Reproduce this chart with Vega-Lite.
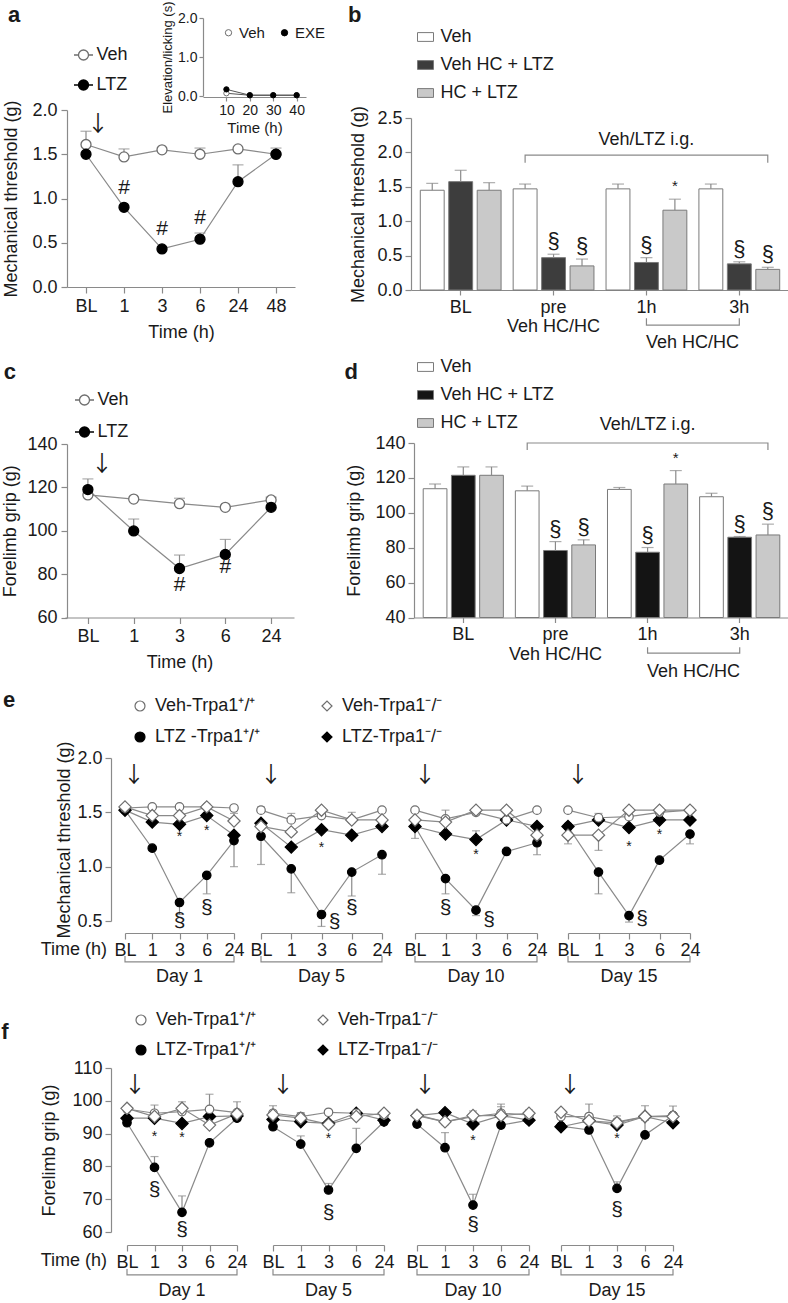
{
"$schema":"https://vega.github.io/schema/vega-lite/v6.json",
"width":788,"height":1303,"autosize":{"type":"none"},"padding":0,"background":"white",
"config":{
 "view":{"stroke":null},
 "font":"Liberation Sans",
 "axis":{"grid":false,"domainColor":"#8a8a8a","tickColor":"#8a8a8a","domainWidth":1.2,"tickWidth":1.2,"tickSize":6,"labelFont":"Liberation Sans","labelFontSize":18,"labelColor":"#1a1a1a","titleFont":"Liberation Sans","titleFontSize":18,"titleFontWeight":"normal","titleColor":"#1a1a1a","labelPadding":3,"labelOverlap":false,"labelFlush":false,"labelBound":false},
 "legend":{"labelFont":"Liberation Sans","labelFontSize":18,"labelColor":"#1a1a1a","padding":0,"labelLimit":300},
 "text":{"font":"Liberation Sans","fontSize":18,"color":"#1a1a1a"},
 "line":{"color":"#8a8a8a","strokeWidth":1.2},
 "rule":{"color":"#8a8a8a","strokeWidth":1.2},
 "tick":{"color":"#8a8a8a","thickness":1.2}
},
"datasets":{
 "a":[
  {"group":"Veh","time":"BL","v":1.61,"err":1.76},{"group":"Veh","time":"1","v":1.47,"err":1.56},{"group":"Veh","time":"3","v":1.55},{"group":"Veh","time":"6","v":1.5,"err":1.57},{"group":"Veh","time":"24","v":1.56},{"group":"Veh","time":"48","v":1.5},
  {"group":"LTZ","time":"BL","v":1.5},{"group":"LTZ","time":"1","v":0.9},{"group":"LTZ","time":"3","v":0.43},{"group":"LTZ","time":"6","v":0.54,"err":0.61},{"group":"LTZ","time":"24","v":1.19,"err":1.38},{"group":"LTZ","time":"48","v":1.5,"err":1.57}],
 "aNote":[{"time":"1","label":"#","v":1.12},{"time":"3","label":"#","v":0.66},{"time":"6","label":"#","v":0.78}],
 "ins":[
  {"group":"Veh","t":10,"v":0.07},{"group":"Veh","t":20,"v":0.02},{"group":"Veh","t":30,"v":0.02},{"group":"Veh","t":40,"v":0.02},
  {"group":"EXE","t":10,"v":0.17},{"group":"EXE","t":20,"v":0.02},{"group":"EXE","t":30,"v":0.02},{"group":"EXE","t":40,"v":0.02}],
 "b":[
  {"g":"BL","s":"Veh","v":1.45,"err":1.55},{"g":"BL","s":"Veh HC + LTZ","v":1.575,"err":1.74},{"g":"BL","s":"HC + LTZ","v":1.45,"err":1.56},
  {"g":"pre","s":"Veh","v":1.47,"err":1.54},{"g":"pre","s":"Veh HC + LTZ","v":0.47,"err":0.52,"sig":"§"},{"g":"pre","s":"HC + LTZ","v":0.35,"err":0.45,"sig":"§"},
  {"g":"1h","s":"Veh","v":1.47,"err":1.54},{"g":"1h","s":"Veh HC + LTZ","v":0.4,"err":0.47,"sig":"§"},{"g":"1h","s":"HC + LTZ","v":1.16,"err":1.32,"sig":"*"},
  {"g":"3h","s":"Veh","v":1.47,"err":1.54},{"g":"3h","s":"Veh HC + LTZ","v":0.38,"err":0.41,"sig":"§"},{"g":"3h","s":"HC + LTZ","v":0.3,"err":0.33,"sig":"§"}],
 "c":[
  {"group":"Veh","time":"BL","v":116.5},{"group":"Veh","time":"1","v":114.6},{"group":"Veh","time":"3","v":112.5,"err":115.0},{"group":"Veh","time":"6","v":110.8},{"group":"Veh","time":"24","v":114.2,"err":115.5},
  {"group":"LTZ","time":"BL","v":119.0,"err":123.9},{"group":"LTZ","time":"1","v":99.9,"err":105.4},{"group":"LTZ","time":"3","v":82.6,"err":88.8},{"group":"LTZ","time":"6","v":89.1,"err":96.0},{"group":"LTZ","time":"24","v":110.8}],
 "cNote":[{"time":"3","label":"#","v":75.0},{"time":"6","label":"#","v":83.1}],
 "d":[
  {"g":"BL","s":"Veh","v":113.8,"err":116.5},{"g":"BL","s":"Veh HC + LTZ","v":121.5,"err":126.3},{"g":"BL","s":"HC + LTZ","v":121.5,"err":126.3},
  {"g":"pre","s":"Veh","v":112.6,"err":115.3},{"g":"pre","s":"Veh HC + LTZ","v":78.4,"err":83.5,"sig":"§"},{"g":"pre","s":"HC + LTZ","v":81.6,"err":84.5,"sig":"§"},
  {"g":"1h","s":"Veh","v":113.4,"err":114.5},{"g":"1h","s":"Veh HC + LTZ","v":77.4,"err":80.1,"sig":"§"},{"g":"1h","s":"HC + LTZ","v":116.5,"err":124.2,"sig":"*"},
  {"g":"3h","s":"Veh","v":109.2,"err":111.2},{"g":"3h","s":"Veh HC + LTZ","v":86.0,"err":86.4,"sig":"§"},{"g":"3h","s":"HC + LTZ","v":87.3,"err":93.5,"sig":"§"}],
 "e":[
  {"day":"Day 1","time":"BL","group":"LW","v":1.52},{"day":"Day 1","time":"1","group":"LW","v":1.17},{"day":"Day 1","time":"3","group":"LW","v":0.67,"err":0.56},{"day":"Day 1","time":"6","group":"LW","v":0.92,"err":0.75},{"day":"Day 1","time":"24","group":"LW","v":1.24,"err":1.0},
  {"day":"Day 1","time":"BL","group":"LK","v":1.52},{"day":"Day 1","time":"1","group":"LK","v":1.41},{"day":"Day 1","time":"3","group":"LK","v":1.39},{"day":"Day 1","time":"6","group":"LK","v":1.47},{"day":"Day 1","time":"24","group":"LK","v":1.29},
  {"day":"Day 1","time":"BL","group":"VW","v":1.54},{"day":"Day 1","time":"1","group":"VW","v":1.55},{"day":"Day 1","time":"3","group":"VW","v":1.55},{"day":"Day 1","time":"6","group":"VW","v":1.55},{"day":"Day 1","time":"24","group":"VW","v":1.54},
  {"day":"Day 1","time":"BL","group":"VK","v":1.55},{"day":"Day 1","time":"1","group":"VK","v":1.47},{"day":"Day 1","time":"3","group":"VK","v":1.47},{"day":"Day 1","time":"6","group":"VK","v":1.55},{"day":"Day 1","time":"24","group":"VK","v":1.42,"err":1.49},
  {"day":"Day 5","time":"BL","group":"LW","v":1.28,"err":1.02},{"day":"Day 5","time":"1","group":"LW","v":0.98,"err":0.76},{"day":"Day 5","time":"3","group":"LW","v":0.56,"err":0.45},{"day":"Day 5","time":"6","group":"LW","v":0.95,"err":0.73},{"day":"Day 5","time":"24","group":"LW","v":1.11,"err":0.93},
  {"day":"Day 5","time":"BL","group":"LK","v":1.4},{"day":"Day 5","time":"1","group":"LK","v":1.18},{"day":"Day 5","time":"3","group":"LK","v":1.34},{"day":"Day 5","time":"6","group":"LK","v":1.29},{"day":"Day 5","time":"24","group":"LK","v":1.37},
  {"day":"Day 5","time":"BL","group":"VW","v":1.52,"err":1.55},{"day":"Day 5","time":"1","group":"VW","v":1.43,"err":1.49},{"day":"Day 5","time":"3","group":"VW","v":1.47},{"day":"Day 5","time":"6","group":"VW","v":1.43,"err":1.5},{"day":"Day 5","time":"24","group":"VW","v":1.52},
  {"day":"Day 5","time":"BL","group":"VK","v":1.37},{"day":"Day 5","time":"1","group":"VK","v":1.32},{"day":"Day 5","time":"3","group":"VK","v":1.52},{"day":"Day 5","time":"6","group":"VK","v":1.43},{"day":"Day 5","time":"24","group":"VK","v":1.43},
  {"day":"Day 10","time":"BL","group":"LW","v":1.37},{"day":"Day 10","time":"1","group":"LW","v":0.89,"err":0.75},{"day":"Day 10","time":"3","group":"LW","v":0.6,"err":0.55},{"day":"Day 10","time":"6","group":"LW","v":1.14},{"day":"Day 10","time":"24","group":"LW","v":1.22},
  {"day":"Day 10","time":"BL","group":"LK","v":1.37,"err":1.26},{"day":"Day 10","time":"1","group":"LK","v":1.3},{"day":"Day 10","time":"3","group":"LK","v":1.25,"err":1.33},{"day":"Day 10","time":"6","group":"LK","v":1.43},{"day":"Day 10","time":"24","group":"LK","v":1.37},
  {"day":"Day 10","time":"BL","group":"VW","v":1.52},{"day":"Day 10","time":"1","group":"VW","v":1.44,"err":1.52},{"day":"Day 10","time":"3","group":"VW","v":1.5},{"day":"Day 10","time":"6","group":"VW","v":1.43},{"day":"Day 10","time":"24","group":"VW","v":1.52},
  {"day":"Day 10","time":"BL","group":"VK","v":1.43},{"day":"Day 10","time":"1","group":"VK","v":1.41},{"day":"Day 10","time":"3","group":"VK","v":1.52},{"day":"Day 10","time":"6","group":"VK","v":1.52},{"day":"Day 10","time":"24","group":"VK","v":1.29,"err":1.11},
  {"day":"Day 15","time":"BL","group":"LW","v":1.37},{"day":"Day 15","time":"1","group":"LW","v":0.95,"err":0.75},{"day":"Day 15","time":"3","group":"LW","v":0.55,"err":0.49},{"day":"Day 15","time":"6","group":"LW","v":1.06},{"day":"Day 15","time":"24","group":"LW","v":1.3,"err":1.21},
  {"day":"Day 15","time":"BL","group":"LK","v":1.37},{"day":"Day 15","time":"1","group":"LK","v":1.43,"err":1.49},{"day":"Day 15","time":"3","group":"LK","v":1.36},{"day":"Day 15","time":"6","group":"LK","v":1.43},{"day":"Day 15","time":"24","group":"LK","v":1.43},
  {"day":"Day 15","time":"BL","group":"VW","v":1.52},{"day":"Day 15","time":"1","group":"VW","v":1.45},{"day":"Day 15","time":"3","group":"VW","v":1.46},{"day":"Day 15","time":"6","group":"VW","v":1.5},{"day":"Day 15","time":"24","group":"VW","v":1.52},
  {"day":"Day 15","time":"BL","group":"VK","v":1.29,"err":1.21},{"day":"Day 15","time":"1","group":"VK","v":1.29,"err":1.15},{"day":"Day 15","time":"3","group":"VK","v":1.52},{"day":"Day 15","time":"6","group":"VK","v":1.52},{"day":"Day 15","time":"24","group":"VK","v":1.52}],
 "eNote":[
  {"day":"Day 1","time":"3","label":"*","v":1.27,"pos":"c"},{"day":"Day 1","time":"6","label":"*","v":1.33,"pos":"c"},{"day":"Day 1","time":"3","label":"§","v":0.5,"pos":"c"},{"day":"Day 1","time":"6","label":"§","v":0.62,"pos":"c"},
  {"day":"Day 5","time":"3","label":"*","v":1.17,"pos":"c"},{"day":"Day 5","time":"3","label":"§","v":0.49,"pos":"r"},{"day":"Day 5","time":"6","label":"§","v":0.62,"pos":"c"},
  {"day":"Day 10","time":"3","label":"*","v":1.11,"pos":"c"},{"day":"Day 10","time":"1","label":"§","v":0.62,"pos":"c"},{"day":"Day 10","time":"3","label":"§","v":0.51,"pos":"r"},
  {"day":"Day 15","time":"3","label":"*","v":1.18,"pos":"c"},{"day":"Day 15","time":"6","label":"*","v":1.29,"pos":"c"},{"day":"Day 15","time":"3","label":"§","v":0.52,"pos":"r"}],
 "f":[
  {"day":"Day 1","time":"BL","group":"LW","v":93.3},{"day":"Day 1","time":"1","group":"LW","v":79.7,"err":83.0},{"day":"Day 1","time":"3","group":"LW","v":66.0,"err":71.0},{"day":"Day 1","time":"6","group":"LW","v":87.2},{"day":"Day 1","time":"24","group":"LW","v":94.7},
  {"day":"Day 1","time":"BL","group":"LK","v":94.7},{"day":"Day 1","time":"1","group":"LK","v":94.7},{"day":"Day 1","time":"3","group":"LK","v":93.1},{"day":"Day 1","time":"6","group":"LK","v":95.2},{"day":"Day 1","time":"24","group":"LK","v":95.4},
  {"day":"Day 1","time":"BL","group":"VW","v":97.5,"err":98.5},{"day":"Day 1","time":"1","group":"VW","v":96.2,"err":98.7},{"day":"Day 1","time":"3","group":"VW","v":96.7},{"day":"Day 1","time":"6","group":"VW","v":97.4,"err":102.0},{"day":"Day 1","time":"24","group":"VW","v":96.4,"err":99.7},
  {"day":"Day 1","time":"BL","group":"VK","v":97.7},{"day":"Day 1","time":"1","group":"VK","v":95.2},{"day":"Day 1","time":"3","group":"VK","v":97.7,"err":99.7},{"day":"Day 1","time":"6","group":"VK","v":92.6},{"day":"Day 1","time":"24","group":"VK","v":96.0},
  {"day":"Day 5","time":"BL","group":"LW","v":92.1},{"day":"Day 5","time":"1","group":"LW","v":86.8,"err":89.3},{"day":"Day 5","time":"3","group":"LW","v":72.8,"err":74.8},{"day":"Day 5","time":"6","group":"LW","v":85.5,"err":91.6},{"day":"Day 5","time":"24","group":"LW","v":93.6},
  {"day":"Day 5","time":"BL","group":"LK","v":94.3},{"day":"Day 5","time":"1","group":"LK","v":93.6,"err":96.4},{"day":"Day 5","time":"3","group":"LK","v":93.1},{"day":"Day 5","time":"6","group":"LK","v":96.2},{"day":"Day 5","time":"24","group":"LK","v":94.1},
  {"day":"Day 5","time":"BL","group":"VW","v":96.2,"err":98.5},{"day":"Day 5","time":"1","group":"VW","v":95.2},{"day":"Day 5","time":"3","group":"VW","v":96.5},{"day":"Day 5","time":"6","group":"VW","v":96.2},{"day":"Day 5","time":"24","group":"VW","v":95.7},
  {"day":"Day 5","time":"BL","group":"VK","v":95.7},{"day":"Day 5","time":"1","group":"VK","v":94.7},{"day":"Day 5","time":"3","group":"VK","v":92.8},{"day":"Day 5","time":"6","group":"VK","v":95.2},{"day":"Day 5","time":"24","group":"VK","v":96.2},
  {"day":"Day 10","time":"BL","group":"LW","v":92.9},{"day":"Day 10","time":"1","group":"LW","v":85.7,"err":90.3},{"day":"Day 10","time":"3","group":"LW","v":68.2,"err":71.5},{"day":"Day 10","time":"6","group":"LW","v":92.6,"err":98.2},{"day":"Day 10","time":"24","group":"LW","v":94.1},
  {"day":"Day 10","time":"BL","group":"LK","v":95.5},{"day":"Day 10","time":"1","group":"LK","v":96.4},{"day":"Day 10","time":"3","group":"LK","v":92.9},{"day":"Day 10","time":"6","group":"LK","v":95.5},{"day":"Day 10","time":"24","group":"LK","v":94.1},
  {"day":"Day 10","time":"BL","group":"VW","v":95.7},{"day":"Day 10","time":"1","group":"VW","v":93.6},{"day":"Day 10","time":"3","group":"VW","v":95.2,"err":96.9},{"day":"Day 10","time":"6","group":"VW","v":96.2,"err":99.0},{"day":"Day 10","time":"24","group":"VW","v":95.7},
  {"day":"Day 10","time":"BL","group":"VK","v":95.5},{"day":"Day 10","time":"1","group":"VK","v":93.6},{"day":"Day 10","time":"3","group":"VK","v":95.5},{"day":"Day 10","time":"6","group":"VK","v":95.5},{"day":"Day 10","time":"24","group":"VK","v":96.2,"err":97.2},
  {"day":"Day 15","time":"BL","group":"LW","v":92.3},{"day":"Day 15","time":"1","group":"LW","v":91.1},{"day":"Day 15","time":"3","group":"LW","v":73.3,"err":75.3},{"day":"Day 15","time":"6","group":"LW","v":89.6,"err":94.1},{"day":"Day 15","time":"24","group":"LW","v":95.5},
  {"day":"Day 15","time":"BL","group":"LK","v":92.1},{"day":"Day 15","time":"1","group":"LK","v":93.9},{"day":"Day 15","time":"3","group":"LK","v":92.6},{"day":"Day 15","time":"6","group":"LK","v":95.2},{"day":"Day 15","time":"24","group":"LK","v":93.3},
  {"day":"Day 15","time":"BL","group":"VW","v":95.2},{"day":"Day 15","time":"1","group":"VW","v":95.2,"err":99.0},{"day":"Day 15","time":"3","group":"VW","v":93.6,"err":95.4},{"day":"Day 15","time":"6","group":"VW","v":95.2,"err":98.5},{"day":"Day 15","time":"24","group":"VW","v":95.5,"err":98.4},
  {"day":"Day 15","time":"BL","group":"VK","v":96.5},{"day":"Day 15","time":"1","group":"VK","v":93.9},{"day":"Day 15","time":"3","group":"VK","v":93.3},{"day":"Day 15","time":"6","group":"VK","v":95.2},{"day":"Day 15","time":"24","group":"VK","v":95.2}],
 "fNote":[
  {"day":"Day 1","time":"1","label":"*","v":89.1,"pos":"c"},{"day":"Day 1","time":"3","label":"*","v":88.6,"pos":"c"},{"day":"Day 1","time":"1","label":"§","v":72.8,"pos":"c"},{"day":"Day 1","time":"3","label":"§","v":60.6,"pos":"c"},
  {"day":"Day 5","time":"3","label":"*","v":88.3,"pos":"c"},{"day":"Day 5","time":"3","label":"§","v":65.7,"pos":"c"},
  {"day":"Day 10","time":"3","label":"*","v":87.7,"pos":"c"},{"day":"Day 10","time":"3","label":"§","v":62.1,"pos":"c"},
  {"day":"Day 15","time":"3","label":"*","v":88.3,"pos":"c"},{"day":"Day 15","time":"3","label":"§","v":66.7,"pos":"c"}]
},
"layer":[
 {"data":{"name":"a"},
  "encoding":{
   "x":{"field":"time","type":"ordinal","scale":{"type":"point","domain":["BL","1","3","6","24","48"],"range":[67,295],"padding":0.5},"axis":{"orient":"bottom","offset":-1016,"title":"Time (h)","labelAngle":0,"labelPadding":4,"titlePadding":8}},
   "y":{"field":"v","type":"quantitative","scale":{"domain":[0,2],"range":[287,110],"nice":false,"zero":false},"axis":{"orient":"left","offset":-67,"values":[0,0.5,1,1.5,2],"format":".1f","title":"Mechanical threshold (g)","titlePadding":11,"labelPadding":4}}},
  "layer":[
   {"mark":{"type":"line"},"encoding":{"detail":{"field":"group"},"order":{"value":null}}},
   {"transform":[{"filter":"isValid(datum.err)"}],"mark":{"type":"rule"},"encoding":{"y2":{"field":"err"}}},
   {"transform":[{"filter":"isValid(datum.err)"}],"mark":{"type":"tick","size":11},"encoding":{"y":{"field":"err","type":"quantitative"}}},
   {"mark":{"type":"point","filled":true,"size":100,"strokeWidth":1.3,"opacity":1},
    "encoding":{
     "fill":{"field":"group","type":"nominal","scale":{"domain":["Veh","LTZ"],"range":["white","black"]},"legend":{"title":null,"orient":"none","legendX":74.5,"legendY":46,"symbolType":"M-1.9,0L-1,0M1,0L1.9,0M1,0A1,1,0,1,1,-1,0A1,1,0,1,1,1,0Z","symbolSize":100,"symbolStrokeWidth":1.3,"labelOffset":4,"rowPadding":12}},
     "stroke":{"field":"group","type":"nominal","scale":{"domain":["Veh","LTZ"],"range":["#6e6e6e","black"]},"legend":{"title":null,"orient":"none","legendX":74.5,"legendY":46,"symbolType":"M-1.9,0L-1,0M1,0L1.9,0M1,0A1,1,0,1,1,-1,0A1,1,0,1,1,1,0Z","symbolSize":100,"symbolStrokeWidth":1.3,"labelOffset":4,"rowPadding":12}}}},
   {"data":{"name":"aNote"},"mark":{"type":"text","fontSize":21,"baseline":"middle"},"encoding":{"text":{"field":"label"}}},
   {"data":{"values":[{"time":"BL","v":1.84}]},"mark":{"type":"text","text":"↓","font":"Noto Sans CJK JP","fontSize":22,"dx":12,"baseline":"middle","color":"#1a1a1a"},"encoding":{}},
   {"data":{"values":[{"time":"BL","v":3.07}]},"mark":{"type":"text","text":"a","fontSize":22,"fontWeight":"bold","dx":-72,"baseline":"middle"},"encoding":{}}
  ]},
 {"data":{"name":"ins"},
  "encoding":{
   "x":{"field":"t","type":"quantitative","scale":{"domain":[0,44],"range":[203,306],"nice":false,"zero":false},"axis":{"orient":"bottom","offset":-1206,"values":[10,20,30,40],"title":"Time (h)","labelFontSize":14,"titleFontSize":15,"tickSize":4,"labelPadding":2,"titlePadding":3}},
   "y":{"field":"v","type":"quantitative","scale":{"domain":[0,2],"range":[96,18],"nice":false,"zero":false},"axis":{"orient":"left","offset":-203,"values":[0,1,2],"title":"Elevation/licking (s)","labelFontSize":14,"titleFontSize":13,"tickSize":4,"labelPadding":2,"titlePadding":3}}},
  "layer":[
   {"mark":{"type":"line","color":"#555555","strokeWidth":1},"encoding":{"detail":{"field":"group"},"order":{"value":null}}},
   {"mark":{"type":"point","filled":true,"size":28,"strokeWidth":1,"opacity":1},
    "encoding":{
     "fill":{"field":"group","type":"nominal","scale":{"domain":["Veh","EXE"],"range":["white","black"]},"legend":{"title":null,"orient":"none","legendX":221,"legendY":25,"direction":"horizontal","symbolSize":40,"symbolStrokeWidth":1,"labelOffset":3,"columnPadding":12,"labelFontSize":15}},
     "stroke":{"field":"group","type":"nominal","scale":{"domain":["Veh","EXE"],"range":["#6e6e6e","black"]},"legend":{"title":null,"orient":"none","legendX":221,"legendY":25,"direction":"horizontal","symbolSize":40,"symbolStrokeWidth":1,"labelOffset":3,"columnPadding":12,"labelFontSize":15}}}}
  ]},
 {"data":{"name":"b"},
  "encoding":{
   "x":{"field":"g","type":"nominal","scale":{"type":"band","domain":["BL","pre","1h","3h"],"range":[411,789],"paddingInner":0.13,"paddingOuter":0.1},"axis":{"orient":"bottom","offset":-1013,"title":null,"labelAngle":0,"tickSize":5,"labelPadding":3,"labelLineHeight":19,"labelExpr":"datum.label == 'pre' ? ['pre', 'Veh HC/HC'] : datum.label"}},
   "y":{"field":"v","type":"quantitative","scale":{"domain":[0,2.5],"range":[290,118],"nice":false,"zero":false},"axis":{"orient":"left","offset":-411,"values":[0,0.5,1,1.5,2,2.5],"format":".1f","title":"Mechanical threshold (g)","titlePadding":9}}},
  "layer":[
   {"mark":{"type":"bar","stroke":"#7a7a7a","strokeWidth":1},
    "encoding":{"xOffset":{"field":"s","type":"nominal","scale":{"domain":["Veh","Veh HC + LTZ","HC + LTZ"],"paddingInner":0.16,"paddingOuter":0}},"y2":{"datum":0},
     "fill":{"field":"s","type":"nominal","scale":{"domain":["Veh","Veh HC + LTZ","HC + LTZ"],"range":["white","#3d3d3d","#c9c9c9"]},"legend":{"title":null,"orient":"none","legendX":416.5,"legendY":28,"symbolType":"M-1,-0.55L1,-0.55L1,0.55L-1,0.55Z","symbolSize":256,"symbolStrokeColor":"#7a7a7a","symbolStrokeWidth":1,"labelOffset":6,"rowPadding":10}}}},
   {"transform":[{"filter":"isValid(datum.err)"}],"mark":{"type":"rule"},"encoding":{"xOffset":{"field":"s","type":"nominal"},"y2":{"field":"err"}}},
   {"transform":[{"filter":"isValid(datum.err)"}],"mark":{"type":"tick","size":12},"encoding":{"xOffset":{"field":"s","type":"nominal"},"y":{"field":"err","type":"quantitative"}}},
   {"transform":[{"filter":"isValid(datum.sig)"}],"mark":{"type":"text","dy":-13,"baseline":"middle","color":"#1a1a1a","fontSize":{"expr":"datum.sig == '*' ? 15 : 22"}},"encoding":{"xOffset":{"field":"s","type":"nominal"},"y":{"field":"err","type":"quantitative"},"text":{"field":"sig"}}},
   {"data":{"values":[{"g":"pre","s":"Veh","v":1.85},{"g":"pre","s":"Veh","v":1.96},{"g":"3h","s":"HC + LTZ","v":1.96},{"g":"3h","s":"HC + LTZ","v":1.85}]},"mark":{"type":"line"},"encoding":{"xOffset":{"field":"s","type":"nominal"},"order":{"value":null}}},
   {"data":{"values":[{"g":"1h","v":2.18}]},"mark":{"type":"text","text":"Veh/LTZ i.g.","baseline":"middle"},"encoding":{}},
   {"data":{"values":[{"g":"1h","v":-0.41},{"g":"1h","v":-0.51},{"g":"3h","v":-0.51},{"g":"3h","v":-0.41}]},"mark":{"type":"line"},"encoding":{"order":{"value":null}}},
   {"data":{"values":[{"g":"1h","v":-0.77}]},"mark":{"type":"text","text":"Veh HC/HC","dx":46,"baseline":"middle"},"encoding":{}},
   {"data":{"values":[{"g":"BL","v":4.0}]},"mark":{"type":"text","text":"b","fontSize":22,"fontWeight":"bold","dx":-106,"baseline":"middle"},"encoding":{}}
  ]},
 {"data":{"name":"c"},
  "encoding":{
   "x":{"field":"time","type":"ordinal","scale":{"type":"point","domain":["BL","1","3","6","24"],"range":[65,294],"padding":0.5},"axis":{"orient":"bottom","offset":-685.5,"title":"Time (h)","labelAngle":0,"labelPadding":4,"titlePadding":8}},
   "y":{"field":"v","type":"quantitative","scale":{"domain":[60,140],"range":[617.5,444],"nice":false,"zero":false},"axis":{"orient":"left","offset":-67,"values":[60,80,100,120,140],"title":"Forelimb grip (g)","titlePadding":7,"labelPadding":4}}},
  "layer":[
   {"mark":{"type":"line"},"encoding":{"detail":{"field":"group"},"order":{"value":null}}},
   {"transform":[{"filter":"isValid(datum.err)"}],"mark":{"type":"rule"},"encoding":{"y2":{"field":"err"}}},
   {"transform":[{"filter":"isValid(datum.err)"}],"mark":{"type":"tick","size":11},"encoding":{"y":{"field":"err","type":"quantitative"}}},
   {"mark":{"type":"point","filled":true,"size":100,"strokeWidth":1.3,"opacity":1},
    "encoding":{
     "fill":{"field":"group","type":"nominal","scale":{"domain":["Veh","LTZ"],"range":["white","black"]},"legend":{"title":null,"orient":"none","legendX":75.5,"legendY":391,"symbolType":"M-1.9,0L-1,0M1,0L1.9,0M1,0A1,1,0,1,1,-1,0A1,1,0,1,1,1,0Z","symbolSize":100,"symbolStrokeWidth":1.3,"labelOffset":4,"rowPadding":14}},
     "stroke":{"field":"group","type":"nominal","scale":{"domain":["Veh","LTZ"],"range":["#6e6e6e","black"]},"legend":{"title":null,"orient":"none","legendX":75.5,"legendY":391,"symbolType":"M-1.9,0L-1,0M1,0L1.9,0M1,0A1,1,0,1,1,-1,0A1,1,0,1,1,1,0Z","symbolSize":100,"symbolStrokeWidth":1.3,"labelOffset":4,"rowPadding":14}}}},
   {"data":{"name":"cNote"},"mark":{"type":"text","fontSize":21,"baseline":"middle"},"encoding":{"text":{"field":"label"}}},
   {"data":{"values":[{"time":"BL","v":130.8}]},"mark":{"type":"text","text":"↓","font":"Noto Sans CJK JP","fontSize":22,"dx":14,"baseline":"middle","color":"#1a1a1a"},"encoding":{}},
   {"data":{"values":[{"time":"BL","v":173.2}]},"mark":{"type":"text","text":"c","fontSize":22,"fontWeight":"bold","dx":-78,"baseline":"middle"},"encoding":{}}
  ]},
 {"data":{"name":"d"},
  "encoding":{
   "x":{"field":"g","type":"nominal","scale":{"type":"band","domain":["BL","pre","1h","3h"],"range":[414,789],"paddingInner":0.13,"paddingOuter":0.1},"axis":{"orient":"bottom","offset":-685.5,"title":null,"labelAngle":0,"tickSize":5,"labelPadding":3,"labelLineHeight":20,"labelExpr":"datum.label == 'pre' ? ['pre', 'Veh HC/HC'] : datum.label"}},
   "y":{"field":"v","type":"quantitative","scale":{"domain":[40,140],"range":[617.5,443],"nice":false,"zero":false},"axis":{"orient":"left","offset":-414,"values":[40,60,80,100,120,140],"title":"Forelimb grip (g)","titlePadding":11}}},
  "layer":[
   {"mark":{"type":"bar","stroke":"#7a7a7a","strokeWidth":1},
    "encoding":{"xOffset":{"field":"s","type":"nominal","scale":{"domain":["Veh","Veh HC + LTZ","HC + LTZ"],"paddingInner":0.16,"paddingOuter":0}},"y2":{"datum":40},
     "fill":{"field":"s","type":"nominal","scale":{"domain":["Veh","Veh HC + LTZ","HC + LTZ"],"range":["white","#141414","#c9c9c9"]},"legend":{"title":null,"orient":"none","legendX":416.5,"legendY":358,"symbolType":"M-1,-0.55L1,-0.55L1,0.55L-1,0.55Z","symbolSize":256,"symbolStrokeColor":"#7a7a7a","symbolStrokeWidth":1,"labelOffset":6,"rowPadding":10}}}},
   {"transform":[{"filter":"isValid(datum.err)"}],"mark":{"type":"rule"},"encoding":{"xOffset":{"field":"s","type":"nominal"},"y2":{"field":"err"}}},
   {"transform":[{"filter":"isValid(datum.err)"}],"mark":{"type":"tick","size":12},"encoding":{"xOffset":{"field":"s","type":"nominal"},"y":{"field":"err","type":"quantitative"}}},
   {"transform":[{"filter":"isValid(datum.sig)"}],"mark":{"type":"text","dy":-13,"baseline":"middle","color":"#1a1a1a","fontSize":{"expr":"datum.sig == '*' ? 15 : 22"}},"encoding":{"xOffset":{"field":"s","type":"nominal"},"y":{"field":"err","type":"quantitative"},"text":{"field":"sig"}}},
   {"data":{"values":[{"g":"pre","s":"Veh","v":136},{"g":"pre","s":"Veh","v":140},{"g":"3h","s":"HC + LTZ","v":140},{"g":"3h","s":"HC + LTZ","v":136}]},"mark":{"type":"line"},"encoding":{"xOffset":{"field":"s","type":"nominal"},"order":{"value":null}}},
   {"data":{"values":[{"g":"1h","v":150.4}]},"mark":{"type":"text","text":"Veh/LTZ i.g.","baseline":"middle"},"encoding":{}},
   {"data":{"values":[{"g":"1h","v":23.0},{"g":"1h","v":19.6},{"g":"3h","v":19.6},{"g":"3h","v":23.0}]},"mark":{"type":"line"},"encoding":{"order":{"value":null}}},
   {"data":{"values":[{"g":"1h","v":8.7}]},"mark":{"type":"text","text":"Veh HC/HC","dx":46,"baseline":"middle"},"encoding":{}},
   {"data":{"values":[{"g":"BL","v":180.9}]},"mark":{"type":"text","text":"d","fontSize":22,"fontWeight":"bold","dx":-112,"baseline":"middle"},"encoding":{}}
  ]},
 {"layer":[
   {"data":{"name":"e"},"transform":[{"filter":"datum.day == 'Day 1'"}],
    "encoding":{
     "x":{"field":"time","type":"ordinal","scale":{"type":"point","domain":["BL","1","3","6","24"],"range":[125,234],"padding":0},"axis":{"orient":"bottom","offset":-370,"title":null,"labelAngle":0,"labelPadding":2}},
     "y":{"field":"v","type":"quantitative","scale":{"domain":[0.5,2],"range":[921,758],"nice":false,"zero":false},"axis":{"orient":"left","offset":-111,"values":[0.5,1,1.5,2],"format":".1f","title":"Mechanical threshold (g)","titlePadding":3}}},
    "layer":[
     {"mark":{"type":"line"},"encoding":{"detail":{"field":"group"},"order":{"value":null}}},
     {"transform":[{"filter":"isValid(datum.err)"}],"mark":{"type":"rule"},"encoding":{"y2":{"field":"err"}}},
     {"transform":[{"filter":"isValid(datum.err)"}],"mark":{"type":"tick","size":8},"encoding":{"y":{"field":"err","type":"quantitative"}}},
     {"mark":{"type":"point","filled":true,"strokeWidth":1.2,"opacity":1,"size":{"expr":"datum.group == 'VK' || datum.group == 'LK' ? 150 : 72"}},
      "encoding":{
       "shape":{"field":"group","type":"nominal","scale":{"domain":["VW","LW","VK","LK"],"range":["circle","circle","diamond","diamond"]},"legend":{"title":null,"orient":"none","legendX":131,"legendY":697,"columns":2,"columnPadding":57,"rowPadding":13,"symbolSize":100,"symbolStrokeWidth":1.2,"labelOffset":6,"labelExpr":"datum.label == 'VW' ? 'Veh-Trpa1⁺/⁺' : datum.label == 'VK' ? 'Veh-Trpa1⁻/⁻' : datum.label == 'LW' ? 'LTZ -Trpa1⁺/⁺' : 'LTZ-Trpa1⁻/⁻'","encode":{"symbols":{"update":{"shape":{"signal":"datum.value == 'VW' || datum.value == 'LW' ? 'M-1.9,0L-1,0M1,0L1.9,0M1,0A1,1,0,1,1,-1,0A1,1,0,1,1,1,0Z' : 'M-2.2,0L-1.3,0M1.3,0L2.2,0M-1.3,0L0,-1.3L1.3,0L0,1.3Z'"}}}}}},
       "fill":{"field":"group","type":"nominal","scale":{"domain":["VW","LW","VK","LK"],"range":["white","black","white","black"]},"legend":{"title":null,"orient":"none","legendX":131,"legendY":697,"columns":2,"columnPadding":57,"rowPadding":13,"symbolSize":100,"symbolStrokeWidth":1.2,"labelOffset":6,"labelExpr":"datum.label == 'VW' ? 'Veh-Trpa1⁺/⁺' : datum.label == 'VK' ? 'Veh-Trpa1⁻/⁻' : datum.label == 'LW' ? 'LTZ -Trpa1⁺/⁺' : 'LTZ-Trpa1⁻/⁻'","encode":{"symbols":{"update":{"shape":{"signal":"datum.value == 'VW' || datum.value == 'LW' ? 'M-1.9,0L-1,0M1,0L1.9,0M1,0A1,1,0,1,1,-1,0A1,1,0,1,1,1,0Z' : 'M-2.2,0L-1.3,0M1.3,0L2.2,0M-1.3,0L0,-1.3L1.3,0L0,1.3Z'"}}}}}},
       "stroke":{"field":"group","type":"nominal","scale":{"domain":["VW","LW","VK","LK"],"range":["#6e6e6e","black","#6e6e6e","black"]},"legend":{"title":null,"orient":"none","legendX":131,"legendY":697,"columns":2,"columnPadding":57,"rowPadding":13,"symbolSize":100,"symbolStrokeWidth":1.2,"labelOffset":6,"labelExpr":"datum.label == 'VW' ? 'Veh-Trpa1⁺/⁺' : datum.label == 'VK' ? 'Veh-Trpa1⁻/⁻' : datum.label == 'LW' ? 'LTZ -Trpa1⁺/⁺' : 'LTZ-Trpa1⁻/⁻'","encode":{"symbols":{"update":{"shape":{"signal":"datum.value == 'VW' || datum.value == 'LW' ? 'M-1.9,0L-1,0M1,0L1.9,0M1,0A1,1,0,1,1,-1,0A1,1,0,1,1,1,0Z' : 'M-2.2,0L-1.3,0M1.3,0L2.2,0M-1.3,0L0,-1.3L1.3,0L0,1.3Z'"}}}}}}}},
     {"data":{"name":"eNote"},"transform":[{"filter":"datum.day == 'Day 1'"}],"mark":{"type":"text","baseline":"middle","color":"#1a1a1a","fontSize":{"expr":"datum.label == '*' ? 14 : 21"},"dx":{"expr":"datum.pos == 'r' ? 13 : 0"}},"encoding":{"text":{"field":"label"}}},
     {"data":{"values":[{"time":"BL","v":1.84}]},"mark":{"type":"text","text":"↓","font":"Noto Sans CJK JP","fontSize":22,"dx":9,"baseline":"middle","color":"#1a1a1a"},"encoding":{}},
     {"data":{"values":[{"time":"BL","v":0.179},{"time":"BL","v":0.124},{"time":"24","v":0.124},{"time":"24","v":0.179}]},"mark":{"type":"line"},"encoding":{"order":{"value":null}}},
     {"data":{"values":[{"time":"3","v":-0.014}]},"mark":{"type":"text","text":"Day 1","baseline":"middle"},"encoding":{}},
     {"data":{"values":[{"time":"BL","v":0.234}]},"mark":{"type":"text","text":"Time (h)","align":"right","dx":-18,"baseline":"middle"},"encoding":{}},
     {"data":{"values":[{"time":"BL","v":2.53}]},"mark":{"type":"text","text":"e","fontSize":22,"fontWeight":"bold","dx":-116,"baseline":"middle"},"encoding":{}}
    ]},
   {"data":{"name":"e"},"transform":[{"filter":"datum.day == 'Day 5'"}],
    "encoding":{
     "x":{"field":"time","type":"ordinal","scale":{"type":"point","domain":["BL","1","3","6","24"],"range":[261,382],"padding":0},"axis":{"orient":"bottom","offset":-370,"title":null,"labelAngle":0,"labelPadding":2}},
     "y":{"field":"v","type":"quantitative","scale":{"domain":[0.5,2],"range":[921,758],"nice":false,"zero":false},"axis":{"orient":"left","offset":-111,"values":[0.5,1,1.5,2],"format":".1f","title":"Mechanical threshold (g)","titlePadding":3}}},
    "layer":[
     {"mark":{"type":"line"},"encoding":{"detail":{"field":"group"},"order":{"value":null}}},
     {"transform":[{"filter":"isValid(datum.err)"}],"mark":{"type":"rule"},"encoding":{"y2":{"field":"err"}}},
     {"transform":[{"filter":"isValid(datum.err)"}],"mark":{"type":"tick","size":8},"encoding":{"y":{"field":"err","type":"quantitative"}}},
     {"mark":{"type":"point","filled":true,"strokeWidth":1.2,"opacity":1,"size":{"expr":"datum.group == 'VK' || datum.group == 'LK' ? 150 : 72"}},
      "encoding":{"shape":{"field":"group","type":"nominal"},"fill":{"field":"group","type":"nominal"},"stroke":{"field":"group","type":"nominal"}}},
     {"data":{"name":"eNote"},"transform":[{"filter":"datum.day == 'Day 5'"}],"mark":{"type":"text","baseline":"middle","color":"#1a1a1a","fontSize":{"expr":"datum.label == '*' ? 14 : 21"},"dx":{"expr":"datum.pos == 'r' ? 13 : 0"}},"encoding":{"text":{"field":"label"}}},
     {"data":{"values":[{"time":"BL","v":1.84}]},"mark":{"type":"text","text":"↓","font":"Noto Sans CJK JP","fontSize":22,"dx":10,"baseline":"middle","color":"#1a1a1a"},"encoding":{}},
     {"data":{"values":[{"time":"BL","v":0.179},{"time":"BL","v":0.124},{"time":"24","v":0.124},{"time":"24","v":0.179}]},"mark":{"type":"line"},"encoding":{"order":{"value":null}}},
     {"data":{"values":[{"time":"3","v":-0.014}]},"mark":{"type":"text","text":"Day 5","baseline":"middle"},"encoding":{}}
    ]},
   {"data":{"name":"e"},"transform":[{"filter":"datum.day == 'Day 10'"}],
    "encoding":{
     "x":{"field":"time","type":"ordinal","scale":{"type":"point","domain":["BL","1","3","6","24"],"range":[415,537],"padding":0},"axis":{"orient":"bottom","offset":-370,"title":null,"labelAngle":0,"labelPadding":2}},
     "y":{"field":"v","type":"quantitative","scale":{"domain":[0.5,2],"range":[921,758],"nice":false,"zero":false},"axis":{"orient":"left","offset":-111,"values":[0.5,1,1.5,2],"format":".1f","title":"Mechanical threshold (g)","titlePadding":3}}},
    "layer":[
     {"mark":{"type":"line"},"encoding":{"detail":{"field":"group"},"order":{"value":null}}},
     {"transform":[{"filter":"isValid(datum.err)"}],"mark":{"type":"rule"},"encoding":{"y2":{"field":"err"}}},
     {"transform":[{"filter":"isValid(datum.err)"}],"mark":{"type":"tick","size":8},"encoding":{"y":{"field":"err","type":"quantitative"}}},
     {"mark":{"type":"point","filled":true,"strokeWidth":1.2,"opacity":1,"size":{"expr":"datum.group == 'VK' || datum.group == 'LK' ? 150 : 72"}},
      "encoding":{"shape":{"field":"group","type":"nominal"},"fill":{"field":"group","type":"nominal"},"stroke":{"field":"group","type":"nominal"}}},
     {"data":{"name":"eNote"},"transform":[{"filter":"datum.day == 'Day 10'"}],"mark":{"type":"text","baseline":"middle","color":"#1a1a1a","fontSize":{"expr":"datum.label == '*' ? 14 : 21"},"dx":{"expr":"datum.pos == 'r' ? 13 : 0"}},"encoding":{"text":{"field":"label"}}},
     {"data":{"values":[{"time":"BL","v":1.84}]},"mark":{"type":"text","text":"↓","font":"Noto Sans CJK JP","fontSize":22,"dx":10,"baseline":"middle","color":"#1a1a1a"},"encoding":{}},
     {"data":{"values":[{"time":"BL","v":0.179},{"time":"BL","v":0.124},{"time":"24","v":0.124},{"time":"24","v":0.179}]},"mark":{"type":"line"},"encoding":{"order":{"value":null}}},
     {"data":{"values":[{"time":"3","v":-0.014}]},"mark":{"type":"text","text":"Day 10","baseline":"middle"},"encoding":{}}
    ]},
   {"data":{"name":"e"},"transform":[{"filter":"datum.day == 'Day 15'"}],
    "encoding":{
     "x":{"field":"time","type":"ordinal","scale":{"type":"point","domain":["BL","1","3","6","24"],"range":[568,690],"padding":0},"axis":{"orient":"bottom","offset":-370,"title":null,"labelAngle":0,"labelPadding":2}},
     "y":{"field":"v","type":"quantitative","scale":{"domain":[0.5,2],"range":[921,758],"nice":false,"zero":false},"axis":{"orient":"left","offset":-111,"values":[0.5,1,1.5,2],"format":".1f","title":"Mechanical threshold (g)","titlePadding":3}}},
    "layer":[
     {"mark":{"type":"line"},"encoding":{"detail":{"field":"group"},"order":{"value":null}}},
     {"transform":[{"filter":"isValid(datum.err)"}],"mark":{"type":"rule"},"encoding":{"y2":{"field":"err"}}},
     {"transform":[{"filter":"isValid(datum.err)"}],"mark":{"type":"tick","size":8},"encoding":{"y":{"field":"err","type":"quantitative"}}},
     {"mark":{"type":"point","filled":true,"strokeWidth":1.2,"opacity":1,"size":{"expr":"datum.group == 'VK' || datum.group == 'LK' ? 150 : 72"}},
      "encoding":{"shape":{"field":"group","type":"nominal"},"fill":{"field":"group","type":"nominal"},"stroke":{"field":"group","type":"nominal"}}},
     {"data":{"name":"eNote"},"transform":[{"filter":"datum.day == 'Day 15'"}],"mark":{"type":"text","baseline":"middle","color":"#1a1a1a","fontSize":{"expr":"datum.label == '*' ? 14 : 21"},"dx":{"expr":"datum.pos == 'r' ? 13 : 0"}},"encoding":{"text":{"field":"label"}}},
     {"data":{"values":[{"time":"BL","v":1.84}]},"mark":{"type":"text","text":"↓","font":"Noto Sans CJK JP","fontSize":22,"dx":10,"baseline":"middle","color":"#1a1a1a"},"encoding":{}},
     {"data":{"values":[{"time":"BL","v":0.179},{"time":"BL","v":0.124},{"time":"24","v":0.124},{"time":"24","v":0.179}]},"mark":{"type":"line"},"encoding":{"order":{"value":null}}},
     {"data":{"values":[{"time":"3","v":-0.014}]},"mark":{"type":"text","text":"Day 15","baseline":"middle"},"encoding":{}}
    ]}
  ],
  "resolve":{"scale":{"x":"independent"},"axis":{"x":"independent"}}},
 {"layer":[
   {"data":{"name":"f"},"transform":[{"filter":"datum.day == 'Day 1'"}],
    "encoding":{
     "x":{"field":"time","type":"ordinal","scale":{"type":"point","domain":["BL","1","3","6","24"],"range":[127,237],"padding":0},"axis":{"orient":"bottom","offset":-58,"title":null,"labelAngle":0,"labelPadding":2}},
     "y":{"field":"v","type":"quantitative","scale":{"domain":[60,110],"range":[1232,1068],"nice":false,"zero":false},"axis":{"orient":"left","offset":-111,"values":[60,70,80,90,100,110],"title":"Forelimb grip (g)","titlePadding":13}}},
    "layer":[
     {"mark":{"type":"line"},"encoding":{"detail":{"field":"group"},"order":{"value":null}}},
     {"transform":[{"filter":"isValid(datum.err)"}],"mark":{"type":"rule"},"encoding":{"y2":{"field":"err"}}},
     {"transform":[{"filter":"isValid(datum.err)"}],"mark":{"type":"tick","size":8},"encoding":{"y":{"field":"err","type":"quantitative"}}},
     {"mark":{"type":"point","filled":true,"strokeWidth":1.2,"opacity":1,"size":{"expr":"datum.group == 'VK' || datum.group == 'LK' ? 150 : 72"}},
      "encoding":{
       "shape":{"field":"group","type":"nominal","scale":{"domain":["VW","LW","VK","LK"],"range":["circle","circle","diamond","diamond"]},"legend":{"title":null,"orient":"none","legendX":132,"legendY":1011,"columns":2,"columnPadding":57,"rowPadding":12,"symbolSize":100,"symbolStrokeWidth":1.2,"labelOffset":6,"labelExpr":"datum.label == 'VW' ? 'Veh-Trpa1⁺/⁺' : datum.label == 'VK' ? 'Veh-Trpa1⁻/⁻' : datum.label == 'LW' ? 'LTZ-Trpa1⁺/⁺' : 'LTZ-Trpa1⁻/⁻'","encode":{"symbols":{"update":{"shape":{"signal":"datum.value == 'VW' || datum.value == 'LW' ? 'M-1.9,0L-1,0M1,0L1.9,0M1,0A1,1,0,1,1,-1,0A1,1,0,1,1,1,0Z' : 'M-2.2,0L-1.3,0M1.3,0L2.2,0M-1.3,0L0,-1.3L1.3,0L0,1.3Z'"}}}}}},
       "fill":{"field":"group","type":"nominal","scale":{"domain":["VW","LW","VK","LK"],"range":["white","black","white","black"]},"legend":{"title":null,"orient":"none","legendX":132,"legendY":1011,"columns":2,"columnPadding":57,"rowPadding":12,"symbolSize":100,"symbolStrokeWidth":1.2,"labelOffset":6,"labelExpr":"datum.label == 'VW' ? 'Veh-Trpa1⁺/⁺' : datum.label == 'VK' ? 'Veh-Trpa1⁻/⁻' : datum.label == 'LW' ? 'LTZ-Trpa1⁺/⁺' : 'LTZ-Trpa1⁻/⁻'","encode":{"symbols":{"update":{"shape":{"signal":"datum.value == 'VW' || datum.value == 'LW' ? 'M-1.9,0L-1,0M1,0L1.9,0M1,0A1,1,0,1,1,-1,0A1,1,0,1,1,1,0Z' : 'M-2.2,0L-1.3,0M1.3,0L2.2,0M-1.3,0L0,-1.3L1.3,0L0,1.3Z'"}}}}}},
       "stroke":{"field":"group","type":"nominal","scale":{"domain":["VW","LW","VK","LK"],"range":["#6e6e6e","black","#6e6e6e","black"]},"legend":{"title":null,"orient":"none","legendX":132,"legendY":1011,"columns":2,"columnPadding":57,"rowPadding":12,"symbolSize":100,"symbolStrokeWidth":1.2,"labelOffset":6,"labelExpr":"datum.label == 'VW' ? 'Veh-Trpa1⁺/⁺' : datum.label == 'VK' ? 'Veh-Trpa1⁻/⁻' : datum.label == 'LW' ? 'LTZ-Trpa1⁺/⁺' : 'LTZ-Trpa1⁻/⁻'","encode":{"symbols":{"update":{"shape":{"signal":"datum.value == 'VW' || datum.value == 'LW' ? 'M-1.9,0L-1,0M1,0L1.9,0M1,0A1,1,0,1,1,-1,0A1,1,0,1,1,1,0Z' : 'M-2.2,0L-1.3,0M1.3,0L2.2,0M-1.3,0L0,-1.3L1.3,0L0,1.3Z'"}}}}}}}},
     {"data":{"name":"fNote"},"transform":[{"filter":"datum.day == 'Day 1'"}],"mark":{"type":"text","baseline":"middle","color":"#1a1a1a","fontSize":{"expr":"datum.label == '*' ? 14 : 21"}},"encoding":{"text":{"field":"label"}}},
     {"data":{"values":[{"time":"BL","v":104.8}]},"mark":{"type":"text","text":"↓","font":"Noto Sans CJK JP","fontSize":22,"dx":8,"baseline":"middle","color":"#1a1a1a"},"encoding":{}},
     {"data":{"values":[{"time":"BL","v":48.7},{"time":"BL","v":46.9},{"time":"24","v":46.9},{"time":"24","v":48.7}]},"mark":{"type":"line"},"encoding":{"order":{"value":null}}},
     {"data":{"values":[{"time":"3","v":42.0}]},"mark":{"type":"text","text":"Day 1","baseline":"middle"},"encoding":{}},
     {"data":{"values":[{"time":"BL","v":51.2}]},"mark":{"type":"text","text":"Time (h)","align":"right","dx":-20,"baseline":"middle"},"encoding":{}},
     {"data":{"values":[{"time":"BL","v":121.0}]},"mark":{"type":"text","text":"f","fontSize":22,"fontWeight":"bold","dx":-122,"baseline":"middle"},"encoding":{}}
    ]},
   {"data":{"name":"f"},"transform":[{"filter":"datum.day == 'Day 5'"}],
    "encoding":{
     "x":{"field":"time","type":"ordinal","scale":{"type":"point","domain":["BL","1","3","6","24"],"range":[273,384],"padding":0},"axis":{"orient":"bottom","offset":-58,"title":null,"labelAngle":0,"labelPadding":2}},
     "y":{"field":"v","type":"quantitative","scale":{"domain":[60,110],"range":[1232,1068],"nice":false,"zero":false},"axis":{"orient":"left","offset":-111,"values":[60,70,80,90,100,110],"title":"Forelimb grip (g)","titlePadding":13}}},
    "layer":[
     {"mark":{"type":"line"},"encoding":{"detail":{"field":"group"},"order":{"value":null}}},
     {"transform":[{"filter":"isValid(datum.err)"}],"mark":{"type":"rule"},"encoding":{"y2":{"field":"err"}}},
     {"transform":[{"filter":"isValid(datum.err)"}],"mark":{"type":"tick","size":8},"encoding":{"y":{"field":"err","type":"quantitative"}}},
     {"mark":{"type":"point","filled":true,"strokeWidth":1.2,"opacity":1,"size":{"expr":"datum.group == 'VK' || datum.group == 'LK' ? 150 : 72"}},
      "encoding":{"shape":{"field":"group","type":"nominal"},"fill":{"field":"group","type":"nominal"},"stroke":{"field":"group","type":"nominal"}}},
     {"data":{"name":"fNote"},"transform":[{"filter":"datum.day == 'Day 5'"}],"mark":{"type":"text","baseline":"middle","color":"#1a1a1a","fontSize":{"expr":"datum.label == '*' ? 14 : 21"}},"encoding":{"text":{"field":"label"}}},
     {"data":{"values":[{"time":"BL","v":104.8}]},"mark":{"type":"text","text":"↓","font":"Noto Sans CJK JP","fontSize":22,"dx":10,"baseline":"middle","color":"#1a1a1a"},"encoding":{}},
     {"data":{"values":[{"time":"BL","v":48.7},{"time":"BL","v":46.9},{"time":"24","v":46.9},{"time":"24","v":48.7}]},"mark":{"type":"line"},"encoding":{"order":{"value":null}}},
     {"data":{"values":[{"time":"3","v":42.0}]},"mark":{"type":"text","text":"Day 5","baseline":"middle"},"encoding":{}}
    ]},
   {"data":{"name":"f"},"transform":[{"filter":"datum.day == 'Day 10'"}],
    "encoding":{
     "x":{"field":"time","type":"ordinal","scale":{"type":"point","domain":["BL","1","3","6","24"],"range":[417,529],"padding":0},"axis":{"orient":"bottom","offset":-58,"title":null,"labelAngle":0,"labelPadding":2}},
     "y":{"field":"v","type":"quantitative","scale":{"domain":[60,110],"range":[1232,1068],"nice":false,"zero":false},"axis":{"orient":"left","offset":-111,"values":[60,70,80,90,100,110],"title":"Forelimb grip (g)","titlePadding":13}}},
    "layer":[
     {"mark":{"type":"line"},"encoding":{"detail":{"field":"group"},"order":{"value":null}}},
     {"transform":[{"filter":"isValid(datum.err)"}],"mark":{"type":"rule"},"encoding":{"y2":{"field":"err"}}},
     {"transform":[{"filter":"isValid(datum.err)"}],"mark":{"type":"tick","size":8},"encoding":{"y":{"field":"err","type":"quantitative"}}},
     {"mark":{"type":"point","filled":true,"strokeWidth":1.2,"opacity":1,"size":{"expr":"datum.group == 'VK' || datum.group == 'LK' ? 150 : 72"}},
      "encoding":{"shape":{"field":"group","type":"nominal"},"fill":{"field":"group","type":"nominal"},"stroke":{"field":"group","type":"nominal"}}},
     {"data":{"name":"fNote"},"transform":[{"filter":"datum.day == 'Day 10'"}],"mark":{"type":"text","baseline":"middle","color":"#1a1a1a","fontSize":{"expr":"datum.label == '*' ? 14 : 21"}},"encoding":{"text":{"field":"label"}}},
     {"data":{"values":[{"time":"BL","v":104.8}]},"mark":{"type":"text","text":"↓","font":"Noto Sans CJK JP","fontSize":22,"dx":8,"baseline":"middle","color":"#1a1a1a"},"encoding":{}},
     {"data":{"values":[{"time":"BL","v":48.7},{"time":"BL","v":46.9},{"time":"24","v":46.9},{"time":"24","v":48.7}]},"mark":{"type":"line"},"encoding":{"order":{"value":null}}},
     {"data":{"values":[{"time":"3","v":42.0}]},"mark":{"type":"text","text":"Day 10","baseline":"middle"},"encoding":{}}
    ]},
   {"data":{"name":"f"},"transform":[{"filter":"datum.day == 'Day 15'"}],
    "encoding":{
     "x":{"field":"time","type":"ordinal","scale":{"type":"point","domain":["BL","1","3","6","24"],"range":[561,673],"padding":0},"axis":{"orient":"bottom","offset":-58,"title":null,"labelAngle":0,"labelPadding":2}},
     "y":{"field":"v","type":"quantitative","scale":{"domain":[60,110],"range":[1232,1068],"nice":false,"zero":false},"axis":{"orient":"left","offset":-111,"values":[60,70,80,90,100,110],"title":"Forelimb grip (g)","titlePadding":13}}},
    "layer":[
     {"mark":{"type":"line"},"encoding":{"detail":{"field":"group"},"order":{"value":null}}},
     {"transform":[{"filter":"isValid(datum.err)"}],"mark":{"type":"rule"},"encoding":{"y2":{"field":"err"}}},
     {"transform":[{"filter":"isValid(datum.err)"}],"mark":{"type":"tick","size":8},"encoding":{"y":{"field":"err","type":"quantitative"}}},
     {"mark":{"type":"point","filled":true,"strokeWidth":1.2,"opacity":1,"size":{"expr":"datum.group == 'VK' || datum.group == 'LK' ? 150 : 72"}},
      "encoding":{"shape":{"field":"group","type":"nominal"},"fill":{"field":"group","type":"nominal"},"stroke":{"field":"group","type":"nominal"}}},
     {"data":{"name":"fNote"},"transform":[{"filter":"datum.day == 'Day 15'"}],"mark":{"type":"text","baseline":"middle","color":"#1a1a1a","fontSize":{"expr":"datum.label == '*' ? 14 : 21"}},"encoding":{"text":{"field":"label"}}},
     {"data":{"values":[{"time":"BL","v":104.8}]},"mark":{"type":"text","text":"↓","font":"Noto Sans CJK JP","fontSize":22,"dx":9,"baseline":"middle","color":"#1a1a1a"},"encoding":{}},
     {"data":{"values":[{"time":"BL","v":48.7},{"time":"BL","v":46.9},{"time":"24","v":46.9},{"time":"24","v":48.7}]},"mark":{"type":"line"},"encoding":{"order":{"value":null}}},
     {"data":{"values":[{"time":"3","v":42.0}]},"mark":{"type":"text","text":"Day 15","baseline":"middle"},"encoding":{}}
    ]}
  ],
  "resolve":{"scale":{"x":"independent"},"axis":{"x":"independent"}}}
],
"resolve":{
 "scale":{"x":"independent","y":"independent","xOffset":"independent","fill":"independent","stroke":"independent","shape":"independent"},
 "axis":{"x":"independent","y":"independent"},
 "legend":{"fill":"independent","stroke":"independent","shape":"independent"}
}
}
